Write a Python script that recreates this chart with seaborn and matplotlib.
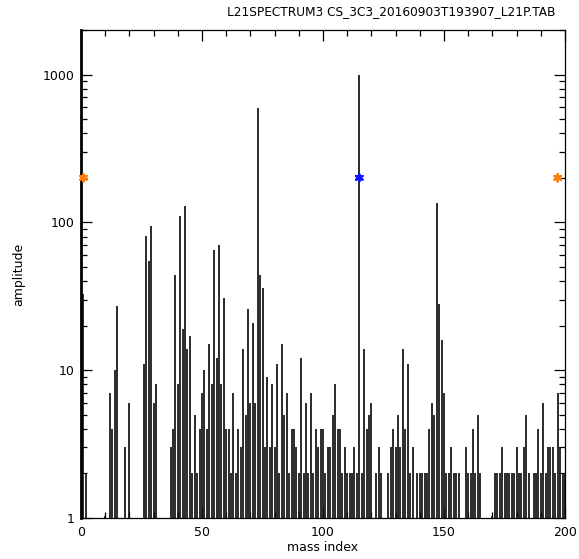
import matplotlib
matplotlib.use("Agg")
import matplotlib.pyplot as plt
import seaborn as sns
import pandas as pd
import numpy as np
from matplotlib.ticker import LogLocator, FixedLocator, NullFormatter, MultipleLocator

# ---- data ----
mass_index = [1, 2, 10, 12, 13, 14, 15, 18, 20, 26, 27, 28, 29, 30, 31,
              37, 38, 39, 40, 41, 42, 43, 44, 45, 46, 47, 48, 49, 50,
              51, 52, 53, 54, 55, 56, 57, 58, 59, 60, 61, 62, 63, 64, 65,
              66, 67, 68, 69, 70, 71, 72, 73, 74, 75, 76, 77, 78, 79, 80,
              81, 82, 83, 84, 85, 86, 87, 88, 89, 90, 91, 92, 93, 94, 95,
              96, 97, 98, 99, 100, 101, 102, 103, 104, 105, 106, 107, 108,
              109, 110, 111, 112, 113, 114, 115, 116, 117, 118, 119, 120,
              122, 123, 124, 127, 128, 129, 130, 131, 132, 133, 134, 135,
              136, 137, 139, 140, 141, 142, 143, 144, 145, 146, 147, 148,
              149, 150, 151, 152, 153, 154, 155, 156, 159, 160, 161, 162,
              163, 164, 165, 170, 171, 172, 173, 174, 175, 176, 177, 178,
              179, 180, 181, 182, 183, 184, 185, 187, 188, 189, 190, 191,
              192, 193, 194, 195, 196, 197, 198, 199, 200]
amplitude = [33, 2, 1.03, 7, 4, 10, 27, 3, 6, 11, 81, 55, 95, 6, 8,
             3, 4, 44, 8, 110, 19, 128, 14, 17, 2, 5, 2, 4, 7,
             10, 4, 15, 8, 65, 12, 70, 8, 31, 4, 4, 2, 7, 2, 4,
             3, 14, 5, 26, 6, 21, 6, 593, 44, 36, 3, 9, 3, 8, 3,
             11, 2, 15, 5, 7, 2, 4, 4, 3, 2, 12, 2, 6, 2, 7,
             2, 4, 3, 4, 4, 2, 3, 3, 5, 8, 4, 4, 2,
             3, 2, 2, 2, 3, 2, 993, 2, 14, 4, 5, 6,
             2, 3, 2, 2, 3, 4, 3, 5, 3, 14, 4, 11,
             2, 3, 2, 2, 2, 2, 2, 4, 6, 5, 135, 28,
             16, 7, 2, 2, 3, 2, 2, 2, 3, 2, 2, 4,
             2, 5, 2, 1.03, 2, 2, 2, 3, 2, 2, 2, 2,
             2, 3, 2, 2, 3, 5, 2, 2, 2, 4, 2, 6,
             2, 3, 3, 3, 2, 7, 3, 2, 2]

marker_x = [1, 115, 197]
marker_y = [200, 200, 200]
marker_kind = ["orange", "blue", "orange"]

title = "L21SPECTRUM3 CS_3C3_20160903T193907_L21P.TAB"
x_ticks = [0, 50, 100, 150, 200]
y_ticks = [1, 10, 100, 1000]

df = pd.DataFrame({"mass index": mass_index, "amplitude": amplitude})
mk = pd.DataFrame({"x": marker_x, "y": marker_y, "kind": marker_kind})

sns.set_theme(style="white")
plt.rcParams["font.family"] = ["DejaVu Sans"]

fig = plt.figure(figsize=(5.79, 5.59), dpi=100)
ax = fig.add_axes([81 / 579, 41 / 559, (565 - 81) / 579, (518 - 30) / 559])
ax.set_yscale("log")
ax.set_xlim(0, 200)
ax.set_ylim(1, 2000)

ax.vlines(df["mass index"], 1, df["amplitude"], color="#111111", lw=1.25)

sns.scatterplot(data=mk, x="x", y="y", hue="kind",
                palette={"orange": "#ff7f0e", "blue": "#1010ff"},
                marker=(6, 2, 0), s=28, linewidth=1.6, legend=False, ax=ax,
                zorder=5, clip_on=False)

for s in ax.spines.values():
    s.set_color("black")
    s.set_linewidth(0.9)
ax.spines["left"].set_linewidth(2.0)

ax.xaxis.set_major_locator(FixedLocator(x_ticks))
ax.xaxis.set_minor_locator(MultipleLocator(10))
ax.yaxis.set_major_locator(FixedLocator(y_ticks))
ax.yaxis.set_minor_locator(LogLocator(base=10, subs=np.arange(2, 10)))
ax.yaxis.set_minor_formatter(NullFormatter())
ax.set_yticklabels([str(v) for v in y_ticks])
ax.set_xticklabels([str(v) for v in x_ticks])

ax.tick_params(which="both", direction="in", top=True, right=True,
               bottom=True, left=True, color="black", labelsize=9,
               labelcolor="black")
ax.tick_params(which="major", length=8, width=0.9)
ax.tick_params(which="minor", length=4, width=0.9)
ax.tick_params(axis="x", pad=6)
ax.tick_params(axis="y", pad=5)

ax.set_xlabel("mass index", fontsize=9, color="black", labelpad=1)
ax.set_ylabel("amplitude", fontsize=9, color="black", labelpad=12)
ax.grid(False)

fig.text(391 / 579, 1 - 12 / 559, title, ha="center", va="center",
         fontsize=8.7, color="black")

fig.savefig("out.png", dpi=100, facecolor="white")
